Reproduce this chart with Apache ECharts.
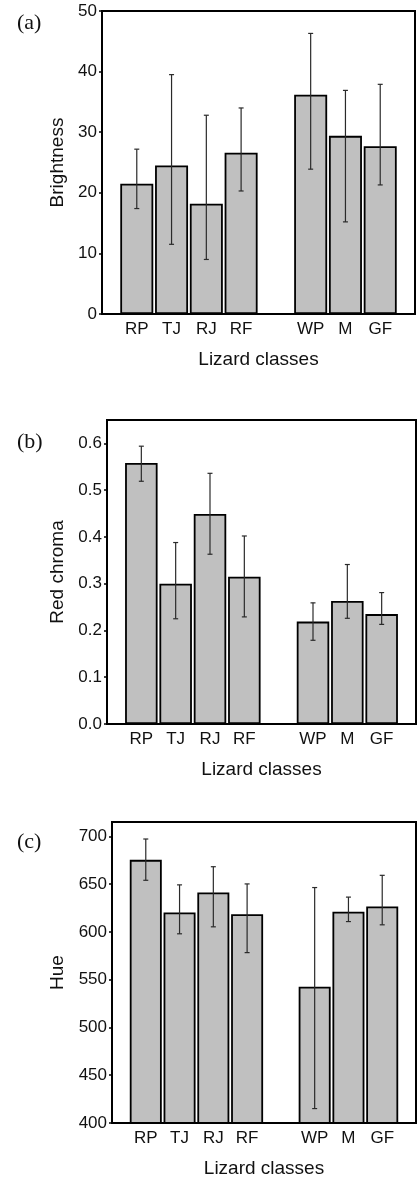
<!DOCTYPE html>
<html><head><meta charset="utf-8">
<script src="https://cdn.jsdelivr.net/npm/echarts@6/dist/echarts.min.js"></script>
<style>html,body{margin:0;padding:0;background:#fff}#c{width:419px;height:1179px}</style>
</head><body><div id="c"></div>
<script>
// Categories (blank slots pad the ends and separate the two groups)
const categories = ['', 'RP', 'TJ', 'RJ', 'RF', '', 'WP', 'M', 'GF', ''];

// (a) Brightness
const brightMean = [null, 21.5, 24.5, 18.2, 26.6, null, 36.2, 29.4, 27.7, null];
const brightLow  = [null, 17.4, 11.5,  9.0, 20.3, null, 23.9, 15.2, 21.3, null];
const brightHigh = [null, 27.2, 39.5, 32.8, 34.0, null, 46.3, 36.9, 37.9, null];

// (b) Red chroma
const chromaMean = [null, 0.558, 0.300, 0.449, 0.315, null, 0.219, 0.263, 0.235, null];
const chromaLow  = [null, 0.519, 0.225, 0.363, 0.229, null, 0.179, 0.226, 0.213, null];
const chromaHigh = [null, 0.594, 0.388, 0.536, 0.402, null, 0.259, 0.341, 0.281, null];

// (c) Hue
const hueMean = [null, 675.4, 620.4, 641.2, 618.4, null, 542.7, 621.2, 626.7, null];
const hueLow  = [null, 654.0, 598.0, 605.3, 578.3, null, 415.1, 610.8, 607.4, null];
const hueHigh = [null, 697.2, 649.2, 668.2, 650.2, null, 646.4, 636.4, 659.2, null];

const panelLabels = ['(a)', '(b)', '(c)'];
const yNames = ['Brightness', 'Red chroma', 'Hue'];
const xName = 'Lizard classes';

const panels = [
  {mean: brightMean, low: brightLow, high: brightHigh, min: 0, max: 50, interval: 10, dec: 0, showMax: true,
   grid: {left: 102, top: 11, width: 313, height: 303}, barW: 33, nameGap: 33},
  {mean: chromaMean, low: chromaLow, high: chromaHigh, min: 0, max: 0.65, interval: 0.1, dec: 1, showMax: false,
   grid: {left: 107, top: 420, width: 309, height: 304}, barW: 32.5, nameGap: 38},
  {mean: hueMean, low: hueLow, high: hueHigh, min: 400, max: 715, interval: 50, dec: 0, showMax: false,
   grid: {left: 112, top: 822, width: 304, height: 304}, barW: 32, nameGap: 43}
];
const titleTops = [7, 426, 826];

const sans = 'Liberation Sans, Arial, sans-serif';
const grids = [], xAxes = [], yAxes = [], series = [], titles = [];

panels.forEach((p, i) => {
  grids.push(Object.assign({show: true, borderColor: '#000', borderWidth: 2, backgroundColor: 'transparent'}, p.grid));
  xAxes.push({
    type: 'category', gridIndex: i, data: categories, boundaryGap: false,
    axisLine: {show: true, lineStyle: {color: '#000', width: 2}},
    axisTick: {show: false},
    axisLabel: {color: '#111', fontSize: 17, fontFamily: sans, margin: 7, interval: 0},
    splitLine: {show: false},
    name: xName, nameLocation: 'middle', nameGap: 36,
    nameTextStyle: {color: '#111', fontSize: 19, fontFamily: sans}
  });
  yAxes.push({
    type: 'value', gridIndex: i, min: p.min, max: p.max, interval: p.interval,
    axisLine: {show: true, lineStyle: {color: '#000', width: 2}},
    axisTick: {show: true, length: 3, lineStyle: {color: '#000', width: 1.5}},
    axisLabel: {color: '#111', fontSize: 17, fontFamily: sans, margin: 5, showMaxLabel: p.showMax,
      formatter: v => v.toFixed(p.dec)},
    splitLine: {show: false},
    name: yNames[i], nameLocation: 'middle', nameGap: p.nameGap,
    nameTextStyle: {color: '#111', fontSize: 19, fontFamily: sans}
  });
  series.push({
    type: 'bar', xAxisIndex: i, yAxisIndex: i, data: p.mean, barWidth: p.barW,
    itemStyle: {color: '#c0c0c0', borderColor: '#000', borderWidth: 1.8},
    silent: true, animation: false
  });
  const errData = p.low.map((l, k) => [k, l, p.high[k]]).filter(d => d[1] != null);
  series.push({
    type: 'custom', xAxisIndex: i, yAxisIndex: i, data: errData, animation: false, silent: true,
    encode: {x: 0, y: [1, 2]},
    renderItem: (params, api) => {
      const lo = api.coord([api.value(0), api.value(1)]);
      const hi = api.coord([api.value(0), api.value(2)]);
      const cw = 2.5;
      const st = {stroke: '#2a2a2a', lineWidth: 1.2};
      return {type: 'group', children: [
        {type: 'line', shape: {x1: lo[0], y1: lo[1], x2: hi[0], y2: hi[1]}, style: st},
        {type: 'line', shape: {x1: lo[0] - cw, y1: lo[1], x2: lo[0] + cw, y2: lo[1]}, style: st},
        {type: 'line', shape: {x1: hi[0] - cw, y1: hi[1], x2: hi[0] + cw, y2: hi[1]}, style: st}
      ]};
    },
    z: 5
  });
  titles.push({text: panelLabels[i], left: 12, top: titleTops[i],
    textStyle: {fontFamily: 'Liberation Serif, DejaVu Serif, serif', fontWeight: 'normal', fontSize: 22, color: '#111'}});
});

const chart = echarts.init(document.getElementById('c'), null, {renderer: 'canvas'});
chart.setOption({
  animation: false, backgroundColor: '#fff',
  title: titles, grid: grids, xAxis: xAxes, yAxis: yAxes, series: series
});
</script></body></html>
